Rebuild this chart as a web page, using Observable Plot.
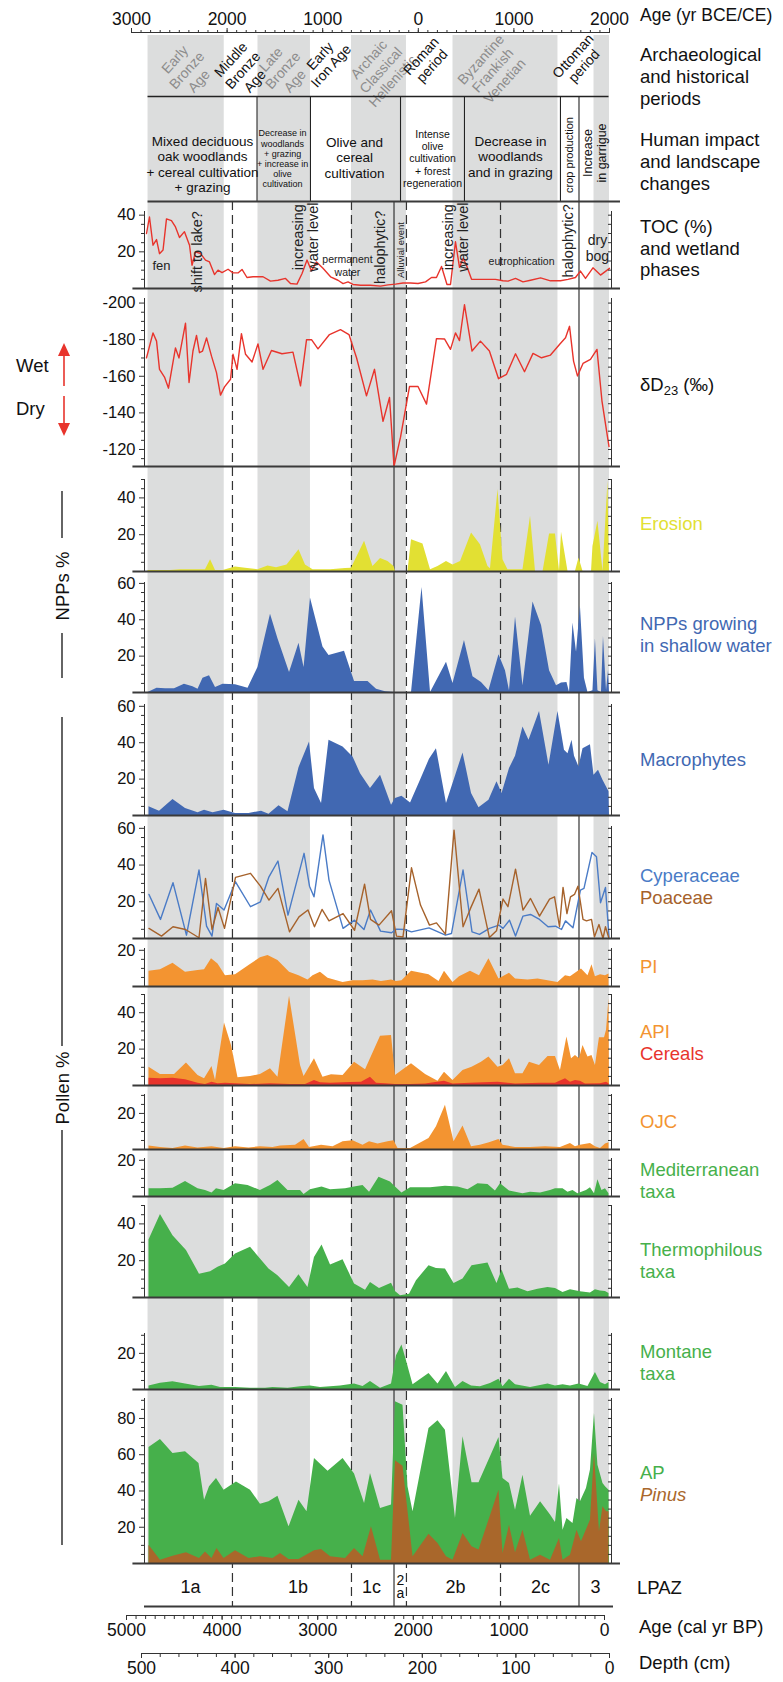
<!DOCTYPE html>
<html><head><meta charset="utf-8">
<script src="https://cdn.jsdelivr.net/npm/d3@7"></script>
<script src="https://cdn.jsdelivr.net/npm/@observablehq/plot@0.6"></script>
<style>
html,body{margin:0;padding:0;background:#fff;}
#root{position:relative;width:783px;height:1682px;overflow:hidden;font-family:"Liberation Sans",Arial,Helvetica,sans-serif;color:#111;}
#root svg{overflow:visible;}
.lab{position:absolute;white-space:nowrap;font-size:18.5px;}
</style></head><body><div id="root"></div>
<script>
// ---------------- DATA (x = calendar year, negative = BCE) ----------------
const toc = [[-2843,30],[-2812,39],[-2775,23.6],[-2738,26.7],[-2707,19],[-2670,21],[-2634,38],[-2582,37],[-2540,33.6],[-2498,27.8],[-2446,31],[-2393,23.6],[-2367,12.7],[-2330,20],[-2278,19],[-2226,15.5],[-2184,14.5],[-2132,7.6],[-2095,10],[-2053,8.7],[-1990,10.5],[-1938,8.5],[-1886,8.5],[-1844,10.4],[-1792,6],[-1729,6.4],[-1624,6.4],[-1546,4],[-1468,4.5],[-1389,5.5],[-1337,2.7],[-1269,2.4],[-1216,8.2],[-1164,15.5],[-1117,9.6],[-1065,14.5],[-997,11],[-918,6.4],[-840,4.5],[-787,2.7],[-735,3.6],[-683,2.2],[-604,1.8],[-500,1.8],[-395,1.3],[-317,2],[-239,2.4],[-160,3],[-81,3],[-3,2.7],[76,3.6],[138,6],[190,6],[243,12],[300,2.2],[337,2.2],[389,25.5],[431,11.5],[468,16.4],[504,12.7],[557,5],[650,5],[807,5],[886,4.2],[938,4],[1017,5.5],[1095,3.6],[1174,4.5],[1279,5.8],[1383,4.2],[1487,4.2],[1566,5],[1644,6],[1696,9.5],[1749,5.5],[1827,11.3],[1906,7.3],[2000,11]];
const deltaD = [[-2843,-170.1],[-2775,-183.7],[-2738,-179.2],[-2707,-163.8],[-2655,-159.6],[-2613,-153.5],[-2540,-175.5],[-2503,-170],[-2435,-189],[-2398,-156.6],[-2357,-173.8],[-2320,-182.3],[-2289,-172.9],[-2257,-173.8],[-2215,-181],[-2163,-171],[-2111,-162],[-2069,-149.7],[-2027,-154.2],[-1964,-158.4],[-1938,-172],[-1896,-163.8],[-1850,-183.3],[-1807,-172],[-1739,-167.8],[-1677,-177.7],[-1624,-163.8],[-1536,-174.1],[-1426,-172.3],[-1311,-173.2],[-1232,-154.8],[-1169,-180],[-1117,-180],[-1049,-175],[-929,-182.8],[-814,-185.5],[-725,-182.8],[-646,-170.1],[-542,-149.3],[-458,-163.8],[-369,-135.4],[-301,-148.4],[-254,-110.8],[-186,-126.7],[-92,-154.4],[-3,-154.4],[86,-144.8],[190,-180.6],[274,-180.4],[337,-174.7],[389,-183.7],[431,-179.5],[483,-199.1],[562,-173.8],[650,-179.2],[744,-173.8],[839,-158.7],[923,-161.1],[1017,-172.3],[1111,-162.5],[1200,-172.5],[1289,-170.1],[1383,-171.6],[1477,-177.4],[1540,-181],[1582,-187.3],[1624,-168.3],[1665,-160.2],[1723,-167],[1801,-169.2],[1869,-174.7],[1921,-146.6],[1995,-121.6]];
const erosion = [[-2827,0.5],[-2592,0.5],[-2487,1],[-2226,1],[-2173,6.4],[-2121,0.5],[-2043,0.5],[-1912,2.5],[-1807,1.8],[-1677,1],[-1572,3],[-1483,2],[-1373,3.6],[-1248,11.8],[-1180,3.6],[-1101,1],[-918,1],[-761,1.6],[-699,1.8],[-562,16.4],[-474,2.7],[-395,7],[-317,5.5],[-254,2.7],[-239,0],[-108,0],[-71,17.3],[49,15],[128,1],[206,2.7],[295,5.5],[363,3.6],[442,5.5],[557,20.9],[650,14.5],[729,2.7],[755,1.5],[834,44.5],[886,6.4],[938,1],[1095,1],[1174,30],[1226,0],[1305,0],[1373,20.4],[1435,20.4],[1477,0],[1498,21.3],[1566,0],[1644,0],[1681,7.3],[1723,0],[1812,0],[1827,13.6],[1879,27.3],[1932,0],[1984,49],[2000,0]];
const nppShallow = [[-2827,0],[-2733,2.4],[-2644,2],[-2550,2],[-2446,4.6],[-2357,3.1],[-2304,1.8],[-2252,7.9],[-2184,9.2],[-2121,2.8],[-2043,4.6],[-1912,4.2],[-1781,2.4],[-1677,13.8],[-1546,43],[-1468,29.5],[-1347,11],[-1248,27.1],[-1195,13.8],[-1128,52],[-997,25],[-934,20.3],[-772,22.7],[-667,6.1],[-526,6.1],[-437,1.8],[-343,0.4],[-254,0],[-71,0],[39,57.7],[128,0],[295,16.6],[363,5],[483,28.6],[572,8.7],[661,5.5],[739,0.9],[844,20.7],[912,12],[954,0.9],[1017,41.5],[1095,3.7],[1200,49.8],[1289,36.9],[1373,12],[1446,3.7],[1498,5.2],[1555,5.5],[1582,0],[1618,38.2],[1655,22.1],[1696,47.4],[1738,7.9],[1775,0],[1827,0.9],[1853,29.5],[1879,0.9],[1916,0],[1937,30.8],[1969,0.9],[1990,12.4],[2000,0]];
const macrophytes = [[-2817,4.8],[-2707,2.4],[-2566,8.8],[-2435,3.8],[-2304,1.5],[-2236,2.9],[-2147,1.5],[-2032,2.9],[-1912,1.1],[-1771,1.1],[-1640,2.4],[-1562,0.7],[-1457,5.3],[-1363,2],[-1248,26.3],[-1138,40.4],[-1086,14.8],[-1012,6.6],[-934,41.3],[-787,37.7],[-683,32.2],[-604,23],[-500,14.8],[-395,22.1],[-280,5.7],[-239,9.3],[-171,10.6],[-81,6.9],[23,19.4],[117,30.9],[190,36.7],[295,6.6],[468,34.4],[557,12.1],[635,4.2],[739,8.4],[823,18.5],[876,12.1],[954,25.8],[1017,32.5],[1095,48.6],[1158,41.3],[1268,57.2],[1367,27.6],[1461,57.2],[1529,35.8],[1566,34],[1608,41.3],[1634,32.5],[1681,26.7],[1723,36.7],[1801,38.9],[1838,22.1],[1885,24.9],[1932,19.4],[1969,15.7],[1995,13],[2000,0]];
const cyperaceae = [[-2817,24],[-2697,10.4],[-2566,30.4],[-2425,1.8],[-2294,37.3],[-2215,6.7],[-2158,1.3],[-2111,19.1],[-2032,15.5],[-1912,30.9],[-1755,17.3],[-1651,20],[-1562,33.6],[-1468,42.2],[-1363,12.7],[-1195,46.4],[-1138,28.5],[-1091,22.7],[-997,56.4],[-934,31.8],[-787,5.5],[-667,10],[-568,4.9],[-500,15.5],[-395,4],[-280,3.1],[-228,5.1],[-144,4.9],[-71,3.6],[112,5.8],[284,1.8],[347,2.7],[468,37.3],[562,3.6],[640,2.2],[744,5.5],[844,7.3],[886,5.5],[954,10],[1017,1.3],[1095,12.2],[1174,13.1],[1268,10.4],[1357,6.4],[1435,6.7],[1498,4.9],[1540,9.6],[1618,5.8],[1696,26.4],[1733,27.3],[1817,46.9],[1864,44.5],[1906,19.5],[1958,27.8],[1995,0.9]];
const poaceae = [[-2817,5.5],[-2686,1.3],[-2566,6.4],[-2435,4.9],[-2294,0.4],[-2226,32.7],[-2158,4.9],[-2095,16.9],[-2027,5.5],[-1912,33.3],[-1755,35.5],[-1651,28.5],[-1562,20.9],[-1468,27.3],[-1347,3.6],[-1248,11.8],[-1154,15.5],[-1086,6.4],[-1007,15.8],[-934,9.6],[-787,13.6],[-667,4.5],[-562,29.6],[-500,10.4],[-411,7.3],[-280,15.1],[-228,1.3],[-160,0.9],[-71,38.5],[23,18.2],[117,7.3],[190,8.5],[284,2.4],[374,59],[468,6.4],[546,16.4],[635,26.9],[744,0.5],[818,4.2],[886,21.5],[938,17.3],[1017,37.8],[1095,15.5],[1174,21.8],[1268,12.2],[1373,21.5],[1425,22.7],[1477,6.4],[1514,27.8],[1555,13.6],[1592,22.7],[1634,24],[1670,28.5],[1723,10.4],[1759,9.6],[1812,10.4],[1843,0.9],[1890,7.6],[1932,0],[1958,6.4],[1995,0]];
const pi = [[-2817,8.4],[-2697,9.2],[-2566,12.9],[-2435,7.9],[-2304,8.8],[-2236,9.2],[-2163,15.3],[-2095,12.5],[-2017,6],[-1912,6.5],[-1771,11.6],[-1651,15.9],[-1572,17.2],[-1468,14.4],[-1347,7.9],[-1248,6],[-1154,3.6],[-1101,6],[-1023,7.9],[-944,4.5],[-787,2.2],[-683,3.2],[-578,3.2],[-474,3.6],[-385,2.8],[-280,3.6],[-228,2.8],[-171,3.2],[-71,8.4],[34,7.3],[112,6.5],[217,2.8],[274,8.4],[363,2.2],[431,5.4],[546,8.4],[640,6],[739,15.3],[844,4.1],[954,7.3],[1017,4.1],[1148,3.6],[1252,4.1],[1357,3.2],[1461,2.2],[1540,6],[1592,5.4],[1644,7.3],[1707,9.7],[1775,6],[1817,12],[1853,5.4],[1906,6.5],[1958,6],[1995,6.9]];
const api = [[-2817,10],[-2697,6],[-2550,6],[-2425,12.3],[-2304,5.5],[-2236,3.7],[-2158,10.5],[-2121,2.8],[-2027,34.3],[-1954,22],[-1886,4.2],[-1755,5],[-1651,6],[-1546,9.2],[-1468,4.6],[-1347,49],[-1232,11],[-1195,5],[-1086,14.7],[-997,4.6],[-908,5.9],[-787,5.5],[-667,12.8],[-552,8.6],[-395,27],[-280,27.5],[-239,5.5],[-71,11.9],[76,6],[206,2.4],[274,7.3],[363,2.8],[468,8.3],[562,10],[661,12.8],[739,15.6],[834,10],[886,11],[954,14.7],[1017,6.4],[1095,6.4],[1163,12.8],[1268,11],[1357,16],[1435,16],[1487,8.3],[1555,26.6],[1603,14.7],[1644,16.5],[1686,14.7],[1723,22],[1775,15.6],[1817,16.5],[1853,11],[1895,26.2],[1948,26.2],[1969,30.3],[1995,47.7],[2000,0]];
const cereals = [[-2817,4],[-2697,3.7],[-2566,4],[-2435,3.1],[-2304,1.3],[-2226,0.5],[-2158,1.8],[-2095,0.9],[-2017,1.3],[-1912,0.9],[-1755,0.5],[-1546,0.9],[-1337,0.6],[-1180,0.5],[-1086,2.8],[-1023,1.5],[-918,1.3],[-709,1.7],[-594,1.8],[-500,4.6],[-437,1.3],[-343,0.9],[-239,0.5],[-81,0.5],[76,0.8],[274,2.4],[363,0.8],[546,1.2],[834,1.8],[1017,0.8],[1279,1.2],[1435,1.3],[1540,3.7],[1592,1.8],[1644,2.8],[1696,2.4],[1749,0.8],[1906,0.9],[1969,1.8],[1995,0.9]];
const ojc = [[-2817,1.9],[-2697,1.1],[-2566,0.6],[-2435,1.9],[-2304,0.9],[-2158,1.5],[-2032,0.6],[-1912,1.5],[-1771,0.9],[-1651,1.5],[-1520,1.1],[-1441,1.9],[-1284,2.4],[-1195,5.6],[-1138,1.1],[-1012,2.4],[-892,1.5],[-787,4.3],[-683,4.8],[-578,2.4],[-510,4.3],[-421,3],[-317,4.3],[-254,4.8],[-212,0.6],[-81,0.6],[112,6.1],[190,12.6],[284,24.6],[374,4.3],[468,13],[557,1.5],[650,2.4],[744,3.7],[844,5.6],[886,2.4],[1017,1.1],[1174,1.1],[1331,1.5],[1487,1.1],[1592,3.3],[1644,1.5],[1696,2.4],[1801,3.3],[1853,1.5],[1906,0.6],[1958,3],[1995,3.7]];
const mediterranean = [[-2817,4.3],[-2697,4.3],[-2566,4.6],[-2435,8.3],[-2304,4.3],[-2226,3.3],[-2158,2],[-2111,4.3],[-2032,3.3],[-1912,7],[-1781,6.1],[-1651,3.3],[-1546,6.1],[-1468,8.9],[-1363,3.3],[-1232,3.3],[-1195,1.1],[-1128,3.7],[-1007,5.2],[-918,3.7],[-761,4.3],[-667,5.2],[-578,6.1],[-510,2.4],[-411,10.7],[-291,8],[-239,5.2],[-171,1.9],[-81,4.8],[128,4.8],[284,5.6],[415,5.2],[520,3.7],[624,7],[729,6.7],[807,3],[860,7],[954,3],[1095,1.5],[1174,2.4],[1279,2],[1383,3.3],[1435,4.3],[1514,4.3],[1566,2.4],[1618,3.3],[1670,1.5],[1759,3.3],[1801,4.8],[1843,1.5],[1879,9.3],[1921,3.3],[1958,4.3],[1995,1.5]];
const thermophilous = [[-2817,31.3],[-2697,45.1],[-2566,33.6],[-2425,25.5],[-2289,12.7],[-2173,14],[-2095,16.4],[-2017,18.2],[-1912,23.6],[-1755,27.3],[-1651,20.9],[-1562,15.5],[-1468,11.8],[-1347,5.5],[-1248,12.4],[-1154,5.5],[-1086,21.8],[-1007,28.5],[-918,17.6],[-787,20.5],[-667,7.3],[-552,4],[-500,8.2],[-406,4.9],[-280,7.8],[-239,3.3],[-186,0.9],[-92,1.8],[-19,9.1],[112,17.3],[190,15.8],[284,15.5],[374,7.6],[468,10],[562,17.3],[729,18.7],[823,7.6],[876,14.9],[954,4.5],[1043,5.1],[1148,3.1],[1252,4.5],[1357,5.5],[1435,4.9],[1514,2.7],[1592,4.2],[1696,3.1],[1801,2.4],[1853,4.2],[1906,3.6],[1958,3.3],[1995,2.2]];
const montane = [[-2817,2],[-2697,3.5],[-2566,4.3],[-2435,3],[-2289,1.7],[-2158,2.4],[-2069,1.1],[-1912,1.1],[-1755,0.7],[-1598,0.7],[-1520,1.1],[-1363,0.7],[-1232,1.5],[-1128,2],[-1023,1.1],[-814,2],[-667,3],[-578,1.7],[-500,4.4],[-395,0.7],[-280,3],[-228,18.7],[-171,24.6],[-124,15.9],[-55,2.6],[112,8.9],[206,3],[295,10],[389,1.1],[468,4.4],[557,2],[650,1.5],[755,3.3],[844,5.7],[886,1.5],[954,5.7],[1017,2.6],[1174,1.1],[1357,3],[1435,2],[1514,2.6],[1592,2],[1681,3],[1775,1.7],[1853,9.4],[1906,3.9],[1958,2.6],[1995,3.9]];
const ap = [[-2817,64],[-2697,68.4],[-2566,60.7],[-2435,61.6],[-2294,55.1],[-2236,34.9],[-2184,42.3],[-2111,46.9],[-2032,40.4],[-1902,45],[-1755,40.4],[-1651,32.7],[-1562,34],[-1468,37.1],[-1352,20.2],[-1248,34.9],[-1164,28.5],[-1086,57.9],[-944,50.9],[-787,57.9],[-667,49.3],[-562,33.1],[-500,49.6],[-395,30.3],[-280,32.2],[-239,89.2],[-160,87.3],[-108,42.3],[-55,28.5],[112,74.4],[206,78.7],[284,73.5],[389,24.8],[468,69.9],[562,44.5],[635,44.5],[844,69.5],[886,46.9],[954,44.1],[1017,29.4],[1095,48.7],[1174,26.1],[1279,34],[1383,26.7],[1435,22.6],[1477,43.8],[1514,18.4],[1555,24.8],[1618,22.1],[1660,35.8],[1696,34],[1759,41.4],[1801,51.5],[1843,82.7],[1879,54.2],[1932,44.1],[1958,42.3],[1995,40.4],[2000,0]];
const pinus = [[-2817,10.1],[-2697,1.8],[-2566,4],[-2425,5.9],[-2289,2.8],[-2226,6.4],[-2158,2.8],[-2106,8.3],[-2032,2.8],[-1912,7],[-1771,2.8],[-1651,3.7],[-1520,2.8],[-1441,5.5],[-1352,2.2],[-1248,2.2],[-1086,7],[-1012,7.7],[-918,3.7],[-761,2.8],[-667,8.3],[-578,3.7],[-490,20.2],[-395,1.8],[-280,1.8],[-239,56.6],[-160,53.7],[-55,3.7],[112,16.2],[206,11],[295,3.7],[363,1.8],[468,16.5],[562,9.2],[635,7.4],[844,40.4],[886,5.5],[954,21.1],[1017,5.9],[1095,18.4],[1174,1.8],[1279,4.6],[1383,1.8],[1477,13.8],[1514,1.8],[1592,4.6],[1660,18.4],[1707,12],[1801,23.9],[1843,60.7],[1895,17.5],[1932,31.3],[1969,28.5],[1995,28.5]];

// periods, zones, annotations
const shadedPeriods = [[-2827,-2030],[-1677,-1128],[-699,-124],[363,1461],[1838,2000]];
const periodNames = [
  {t:"Early\nBronze\nAge", x:-2425, shaded:true, n:3},
  {t:"Middle\nBronze\nAge", x:-1839, shaded:false, n:3},
  {t:"Late\nBronze\nAge", x:-1420, shaded:true, n:3},
  {t:"Early\nIron Age", x:-971, shaded:false, n:2},
  {t:"Archaic\nClassical\nHellenistic", x:-395, shaded:true, n:3},
  {t:"Roman\nperiod", x:86, shaded:false, n:2},
  {t:"Byzantine\nFrankish\nVenetian", x:776, shaded:true, n:3},
  {t:"Ottoman\nperiod", x:1676, shaded:false, n:2}
];
const impactDividers = [-1687, -1128, -186, 483, 1487, 1681];
const impactTexts = [
  {t:"Mixed deciduous\noak woodlands\n+ cereal cultivation\n+ grazing", x:-2257},
  {t:"Decrease in\nwoodlands\n+ grazing\n+ increase in\nolive\ncultivation", x:-1420},
  {t:"Olive and\ncereal\ncultivation", x:-667},
  {t:"Intense\nolive\ncultivation\n+ forest\nregeneration", x:149},
  {t:"Decrease in\nwoodlands\nand in grazing", x:964},
  {t:"crop production", x:1582},
  {t:"Increase\nin garrigue", x:1843}
];
const wetlandPhases = [
  {t:"fen", x:-2686, v:12.2},
  {t:"shift to lake?", x:-2310, v:20},
  {t:"increasing\nwater level", x:-1180, v:28},
  {t:"permanent\nwater", x:-741, v:12.7},
  {t:"halophytic?", x:-395, v:22.5},
  {t:"Alluvial event", x:-186, v:21},
  {t:"increasing\nwater level", x:389, v:28},
  {t:"eutrophication", x:1080, v:15.4},
  {t:"halophytic?", x:1571, v:26},
  {t:"dry\nbog", x:1874, v:22}
];
const zoneDashed = [-1944, -699, -124, 860];
const zoneSolid = [-254, 1681];
const lpaz = [{t:"1a", x:-2383},{t:"1b", x:-1258},{t:"1c", x:-490},{t:"2b", x:389},{t:"2c", x:1278},{t:"3", x:1854}];
const lpaz2a = [{t:"2\na", x:-186}];
const calTicks = [0,1000,2000,3000,4000,5000];
const depthTicks = [0,100,200,300,400,500];
const ceTicks = [-3000,-2000,-1000,0,1000,2000];

// ---------------- LAYOUT / STYLE ----------------
const W = 783;
const FONT = '"Liberation Sans", Arial, Helvetica, sans-serif';
const XD = [-2864, 2021], ML = 144, MR = 172;
const BASEX = [-2985, 2115];
const GRAY = "#dcdddd", AXIS = "#333", BASE = "#3a3a3a";
const RED = "#e8342c", YEL = "#e2e033", BLUE = "#4168b2", CYP = "#4a7bc6", POA = "#a6622b",
      ORA = "#f39431", GRN = "#46b04b", PIN = "#a9672b";
const root = document.getElementById("root");
const baseStyle = {background: "transparent", overflow: "visible", fontFamily: FONT, color: "#111"};
function place(svg, top) { svg.style.position = "absolute"; svg.style.left = "0px"; svg.style.top = top + "px"; root.appendChild(svg); }
const X = d => d[0], Y = d => d[1];

// gray period bands (behind everything)
place(Plot.plot({width: W, height: 1564 - 35, marginTop: 0, marginBottom: 0, marginLeft: ML, marginRight: MR,
  x: {domain: XD, axis: null}, y: {domain: [0, 1], axis: null}, style: baseStyle,
  marks: [Plot.rect(shadedPeriods, {x1: X, x2: Y, y1: 0, y2: 1, fill: GRAY})]}), 35);

// LPAZ boundaries
place(Plot.plot({width: W, height: 1606 - 201, marginTop: 0, marginBottom: 0, marginLeft: ML, marginRight: MR,
  x: {domain: XD, axis: null}, style: baseStyle,
  marks: [
    Plot.ruleX(zoneDashed, {stroke: "#333", strokeWidth: 1.2, strokeDasharray: "9,5"}),
    Plot.ruleX(zoneSolid, {stroke: "#333", strokeWidth: 1.2})
  ]}), 201);

// top axis (yr BCE/CE)
place(Plot.plot({width: W, height: 40, marginTop: 32, marginBottom: 7, marginLeft: 131, marginRight: 174,
  x: {domain: [-3000, 2000], axis: null}, y: {domain: [0, 1], axis: null}, style: baseStyle,
  marks: [
    Plot.ruleY([1], {stroke: AXIS, strokeWidth: 1.2}),
    Plot.axisX({anchor: "top", ticks: d3.range(-3000, 2001, 100), tickSize: 3, tickFormat: () => "", label: null, stroke: AXIS}),
    Plot.axisX({anchor: "top", ticks: ceTicks, tickSize: 5, tickPadding: 3, fontSize: 17.5, tickFormat: d => String(Math.abs(d)), label: null, stroke: AXIS})
  ]}), 0);

// period names
place(Plot.plot({width: W, height: 61, marginTop: 0, marginBottom: 0, marginLeft: ML, marginRight: MR,
  x: {domain: XD, axis: null}, style: baseStyle,
  marks: [
    Plot.text(periodNames.filter(d => d.n === 3), {x: "x", text: "t", frameAnchor: "middle", dy: 4, rotate: -48, fontSize: 14, lineHeight: 1.15, fill: d => d.shaded ? "#8c8c8c" : "#111"}),
    Plot.text(periodNames.filter(d => d.n === 2), {x: "x", text: "t", frameAnchor: "middle", dy: -5, rotate: -48, fontSize: 14, lineHeight: 1.05, fill: d => d.shaded ? "#8c8c8c" : "#111"})
  ]}), 35);

// human impact box
const it = impactTexts;
place(Plot.plot({width: W, height: 105, marginTop: 0, marginBottom: 0, marginLeft: ML, marginRight: MR,
  x: {domain: XD, axis: null}, y: {domain: [0, 1], axis: null}, style: baseStyle,
  marks: [
    Plot.ruleX(impactDividers, {stroke: "#222", strokeWidth: 1.1}),
    Plot.ruleY([1], {x1: -2827, x2: 1995, stroke: "#222", strokeWidth: 1.3}),
    Plot.ruleY([0], {x1: -2827, x2: BASEX[1], stroke: BASE, strokeWidth: 2}),
    Plot.text([it[0]], {x: "x", text: "t", frameAnchor: "middle", dy: 15, fontSize: 13.5, lineHeight: 1.15, fill: "#111"}),
    Plot.text([it[1]], {x: "x", text: "t", frameAnchor: "middle", dy: 9.5, fontSize: 9, lineHeight: 1.13, fill: "#111"}),
    Plot.text([it[2]], {x: "x", text: "t", frameAnchor: "middle", dy: 8.5, fontSize: 13.5, lineHeight: 1.15, fill: "#111"}),
    Plot.text([it[3]], {x: "x", text: "t", frameAnchor: "middle", dy: 9.5, fontSize: 10.5, lineHeight: 1.18, fill: "#111"}),
    Plot.text([it[4]], {x: "x", text: "t", frameAnchor: "middle", dy: 7.5, fontSize: 13.5, lineHeight: 1.15, fill: "#111"}),
    Plot.text([it[5]], {x: "x", text: "t", frameAnchor: "middle", dy: 6, rotate: -90, fontSize: 11, fill: "#111"}),
    Plot.text([it[6]], {x: "x", text: "t", frameAnchor: "middle", dy: 4, rotate: -90, fontSize: 12.5, lineHeight: 1.1, fill: "#111"})
  ]}), 96);

// generic panel
function panel({top, bottom, domain, labels, minor, marks}) {
  const svg = Plot.plot({
    width: W, height: bottom - top, marginTop: 0, marginBottom: 0, marginLeft: ML, marginRight: MR,
    x: {domain: XD, axis: null}, y: {domain, axis: null}, style: baseStyle,
    marks: [
      ...marks,
      Plot.ruleX(XD, {stroke: AXIS, strokeWidth: 1}),
      Plot.axisY({anchor: "left", ticks: minor, tickSize: 3, tickFormat: () => "", label: null, stroke: AXIS}),
      Plot.axisY({anchor: "left", ticks: labels, tickSize: 5, tickPadding: 4, fontSize: 16.5, tickFormat: d => String(d), label: null, stroke: AXIS, fill: "#111"}),
      Plot.axisY({anchor: "right", ticks: minor.concat(labels), tickSize: 4, dx: -4, tickFormat: () => "", label: null, stroke: AXIS}),
      Plot.ruleY([domain[0]], {x1: BASEX[0], x2: BASEX[1], stroke: BASE, strokeWidth: 2})
    ]
  });
  place(svg, top);
}
const minorOf = (a, b, labels) => d3.range(a, b + 0.001, 5).filter(v => !labels.includes(v));
function areaPanel(top, bottom, max, labels, series) {
  panel({top, bottom, domain: [0, max], labels, minor: minorOf(5, Math.floor(max / 5) * 5, labels),
    marks: series.map(([data, fill]) => Plot.areaY(data, {x: X, y: Y, fill}))});
}

// TOC
panel({top: 211, bottom: 288, domain: [0, 42], labels: [20, 40], minor: minorOf(5, 40, [20, 40]),
  marks: [
    Plot.line(toc, {x: X, y: Y, stroke: RED, strokeWidth: 1.4}),
    Plot.text(wetlandPhases.filter(d => d.t === "fen"), {x: "x", y: "v", text: "t", fontSize: 13, fill: "#222"}),
    Plot.text(wetlandPhases.filter(d => ["shift to lake?", "halophytic?"].includes(d.t)), {x: "x", y: "v", text: "t", rotate: -90, fontSize: 14.5, fill: "#222"}),
    Plot.text(wetlandPhases.filter(d => d.t.startsWith("increasing")), {x: "x", y: "v", text: "t", rotate: -90, fontSize: 14.5, lineHeight: 1.05, fill: "#222"}),
    Plot.text(wetlandPhases.filter(d => d.t === "Alluvial event"), {x: "x", y: "v", text: "t", rotate: -90, fontSize: 9.5, fill: "#222"}),
    Plot.text(wetlandPhases.filter(d => ["permanent\nwater", "eutrophication"].includes(d.t)), {x: "x", y: "v", text: "t", fontSize: 10.5, lineHeight: 1.3, fill: "#222"}),
    Plot.text(wetlandPhases.filter(d => d.t === "dry\nbog"), {x: "x", y: "v", text: "t", fontSize: 14, lineHeight: 1.15, fill: "#222"})
  ]});

// deltaD
panel({top: 298, bottom: 466, domain: [-110.7, -202.5], labels: [-200, -180, -160, -140, -120],
  minor: d3.range(-200, -110, 5).filter(v => v % 20 !== 0),
  marks: [Plot.line(deltaD, {x: X, y: Y, stroke: RED, strokeWidth: 1.4})]});

areaPanel(479, 571, 50, [20, 40], [[erosion, YEL]]);
areaPanel(582, 692, 60.5, [20, 40, 60], [[nppShallow, BLUE]]);
areaPanel(704, 815, 61, [20, 40, 60], [[macrophytes, BLUE]]);
panel({top: 826, bottom: 938, domain: [0, 61], labels: [20, 40, 60], minor: minorOf(5, 60, [20, 40, 60]),
  marks: [
    Plot.line(cyperaceae, {x: X, y: Y, stroke: CYP, strokeWidth: 1.4}),
    Plot.line(poaceae, {x: X, y: Y, stroke: POA, strokeWidth: 1.4})
  ]});
areaPanel(948, 986, 21, [20], [[pi, ORA]]);
areaPanel(994, 1085, 50, [20, 40], [[api, ORA], [cereals, RED]]);
areaPanel(1094, 1149, 30.5, [20], [[ojc, ORA]]);
areaPanel(1158, 1196, 21, [20], [[mediterranean, GRN]]);
areaPanel(1205, 1297, 50, [20, 40], [[thermophilous, GRN]]);
areaPanel(1333, 1389, 31, [20], [[montane, GRN]]);
areaPanel(1398, 1563, 91, [20, 40, 60, 80], [[ap, GRN], [pinus, PIN]]);

// LPAZ row
place(Plot.plot({width: W, height: 42, marginTop: 0, marginBottom: 0, marginLeft: ML, marginRight: MR,
  x: {domain: XD, axis: null}, y: {domain: [0, 1], axis: null}, style: baseStyle,
  marks: [
    Plot.ruleY([0], {x1: XD[0], x2: 2042, stroke: BASE, strokeWidth: 2}),
    Plot.text(lpaz, {x: "x", text: "t", frameAnchor: "middle", dy: 2, fontSize: 18, fill: "#111"}),
    Plot.text(lpaz2a, {x: "x", text: "t", frameAnchor: "middle", dy: 2, fontSize: 14, lineHeight: 0.95, fill: "#111"})
  ]}), 1564);

// bottom axes
place(Plot.plot({width: W, height: 30, marginTop: 0, marginBottom: 29, marginLeft: 126, marginRight: 179,
  x: {domain: [5000, 0], axis: null}, y: {domain: [0, 1], axis: null}, style: baseStyle,
  marks: [
    Plot.ruleY([0], {stroke: AXIS, strokeWidth: 1.2}),
    Plot.axisX({anchor: "bottom", ticks: d3.range(0, 5001, 100), tickSize: 4, tickFormat: () => "", label: null, stroke: AXIS}),
    Plot.axisX({anchor: "bottom", ticks: calTicks, tickSize: 5, tickPadding: 3, fontSize: 17.5, tickFormat: d => String(d), label: null, stroke: AXIS})
  ]}), 1614);
place(Plot.plot({width: W, height: 30, marginTop: 0, marginBottom: 29, marginLeft: 141, marginRight: 174,
  x: {domain: [500, 0], axis: null}, y: {domain: [0, 1], axis: null}, style: baseStyle,
  marks: [
    Plot.ruleY([0], {stroke: AXIS, strokeWidth: 1.2}),
    Plot.axisX({anchor: "bottom", ticks: d3.range(0, 501, 20), tickSize: 4, tickFormat: () => "", label: null, stroke: AXIS}),
    Plot.axisX({anchor: "bottom", ticks: depthTicks, tickSize: 5, tickPadding: 3, fontSize: 17.5, tickFormat: d => String(d), label: null, stroke: AXIS})
  ]}), 1652);

// ---------------- right-hand and left-hand labels ----------------
function label(lines, x, yc, opt = {}) {
  const lh = opt.lh || 21, size = opt.size || 18.5;
  const div = document.createElement("div");
  div.className = "lab";
  div.style.left = x + "px";
  div.style.top = (yc - lh / 2) + "px";
  div.style.lineHeight = lh + "px";
  div.style.fontSize = size + "px";
  div.style.color = opt.color || "#111";
  if (opt.italic) div.style.fontStyle = "italic";
  div.innerHTML = lines.join("<br>");
  root.appendChild(div);
}
label(["Age (yr BCE/CE)"], 640, 15, {size: 17.5});
label(["Archaeological", "and historical", "periods"], 640, 55, {lh: 22});
label(["Human impact", "and landscape", "changes"], 640, 140, {lh: 22});
label(["TOC (%)", "and wetland", "phases"], 640, 227, {lh: 21.5});
label(['δD<sub style="font-size:13px;vertical-align:-4px;line-height:0">23</sub> (‰)'], 640, 384);
label(["Erosion"], 640, 523, {color: YEL});
label(["NPPs growing", "in shallow water"], 640, 624, {lh: 22.5, color: BLUE});
label(["Macrophytes"], 640, 759, {color: BLUE});
label(["Cyperaceae"], 640, 875, {color: CYP});
label(["Poaceae"], 640, 897, {color: POA});
label(["PI"], 640, 966, {color: ORA});
label(["API"], 640, 1031, {color: ORA});
label(["Cereals"], 640, 1053, {color: RED});
label(["OJC"], 640, 1121, {color: ORA});
label(["Mediterranean", "taxa"], 640, 1170, {lh: 22, color: GRN});
label(["Thermophilous", "taxa"], 640, 1250, {lh: 22, color: GRN});
label(["Montane", "taxa"], 640, 1352, {lh: 22, color: GRN});
label(["AP"], 640, 1472, {color: GRN});
label(["Pinus"], 640, 1494, {color: PIN, italic: true});
label(["LPAZ"], 637, 1587);
label(["Age (cal yr BP)"], 639, 1626);
label(["Depth (cm)"], 639, 1662);
label(["Wet"], 16, 365);
label(["Dry"], 16, 408);

const ov = document.createElement("div");
ov.style.position = "absolute"; ov.style.left = "0"; ov.style.top = "0";
ov.innerHTML = `<svg width="130" height="1682" style="overflow:visible;font-family:${FONT}">
  <g stroke="${RED}" stroke-width="1.6" fill="${RED}">
    <line x1="64" y1="386" x2="64" y2="354"/>
    <path d="M58,356 L64,343 L70,356 Z" stroke="none"/>
    <line x1="64" y1="396" x2="64" y2="425"/>
    <path d="M58,423 L64,436 L70,423 Z" stroke="none"/>
  </g>
  <g stroke="#111" stroke-width="1.3">
    <line x1="62" y1="491" x2="62" y2="538"/>
    <line x1="62" y1="633" x2="62" y2="678"/>
    <line x1="62" y1="717" x2="62" y2="1046"/>
    <line x1="62" y1="1130" x2="62" y2="1545"/>
  </g>
  <text transform="translate(62,586) rotate(-90)" text-anchor="middle" dominant-baseline="central" font-size="18.5" fill="#111">NPPs %</text>
  <text transform="translate(62,1088) rotate(-90)" text-anchor="middle" dominant-baseline="central" font-size="18.5" fill="#111">Pollen %</text>
</svg>`;
root.appendChild(ov);
</script></body></html>
